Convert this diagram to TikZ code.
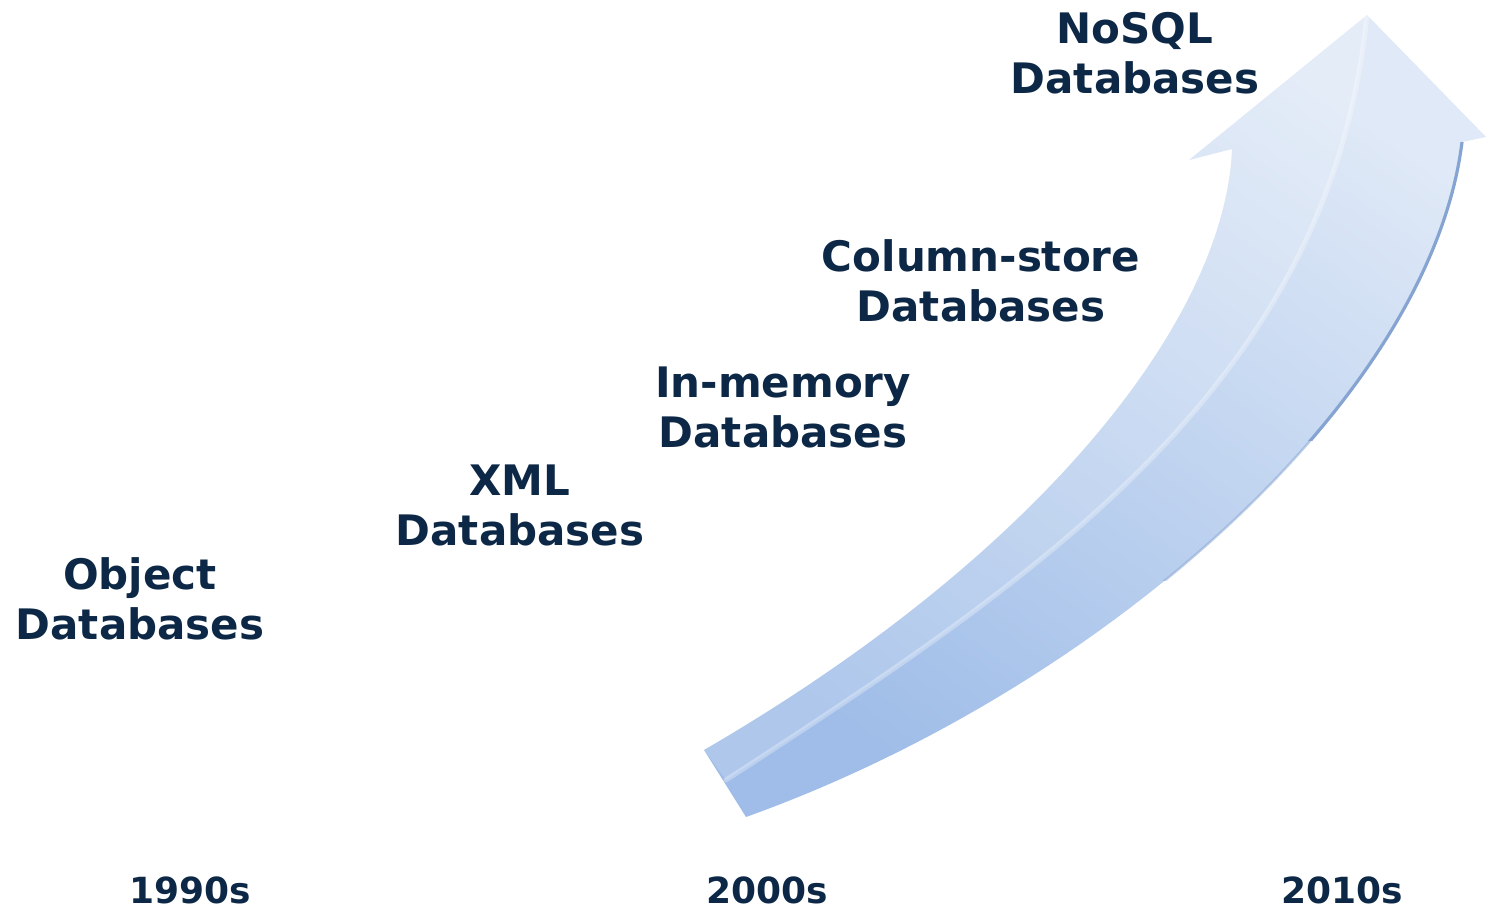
\documentclass[tikz,border=0pt]{standalone}
\usepackage{fontspec}
\setmainfont{DejaVu Sans}
\definecolor{txt}{HTML}{0C2846}
\definecolor{arrdark}{HTML}{9FBDE8}
\definecolor{arrlight}{HTML}{DFE9F7}
\definecolor{arredge}{HTML}{86A4D2}
\tikzset{
  lbl/.style={font=\fontsize{21}{25}\selectfont\bfseries, text=txt, align=center, inner sep=0pt},
  yr/.style={font=\fontsize{18}{22}\selectfont\bfseries, text=txt, inner sep=0pt}
}
\begin{document}
\begin{tikzpicture}[x=0.5pt,y=-0.5pt]
\path[use as bounding box] (0,0) rectangle (1486,909);
% key points of the arrow
\coordinate (endT) at (704,750);
\coordinate (endB) at (746,817);
\coordinate (inR) at (1462,142);
\coordinate (barbR) at (1486,137);
\coordinate (tip) at (1367,15);
\coordinate (barbL) at (1189,160);
\coordinate (inL) at (1232,149);
\coordinate (crease0) at (726,780);
% arrow body
\shade[top color=arrlight, bottom color=arrdark, shading angle=-35]
  (endB) .. controls (1100,690) and (1430,400) .. (inR)
  -- (barbR) -- (tip) -- (barbL) -- (inL)
  .. controls (1225,320) and (1040,555) .. (endT) -- cycle;
% lighter upper band
\fill[white, opacity=0.16]
  (tip) -- (barbL) -- (inL)
  .. controls (1225,320) and (1040,555) .. (endT) -- (crease0)
  .. controls (1050,570) and (1330,380) .. (tip) -- cycle;
% crease highlight
\draw[white, opacity=0.3, line width=2.5pt, line cap=round]
  (crease0) .. controls (1050,570) and (1330,380) .. (tip);
% shadow along the upper right edge
\begin{scope}
  \clip (1150,0) rectangle (1486,440);
  \draw[arredge, line width=1.6pt]
    (endB) .. controls (1100,690) and (1430,400) .. (inR);
\end{scope}
\begin{scope}
  \clip (1150,440) rectangle (1486,580);
  \draw[arredge, opacity=0.5, line width=1.2pt]
    (endB) .. controls (1100,690) and (1430,400) .. (inR);
\end{scope}
% labels
\node[lbl] (obj) at (140,599) {Object\\Databases};
\node[lbl] (xml) at (520,505) {XML\\Databases};
\node[lbl] (inm) at (783,407) {In-memory\\Databases};
\node[lbl] (col) at (981,281) {Column-store\\Databases};
\node[lbl] (nosql) at (1135,53) {NoSQL\\Databases};
\node[yr] (y1990) at (190,890) {1990s};
\node[yr] (y2000) at (767,890) {2000s};
\node[yr] (y2010) at (1342,890) {2010s};
\end{tikzpicture}
\end{document}
